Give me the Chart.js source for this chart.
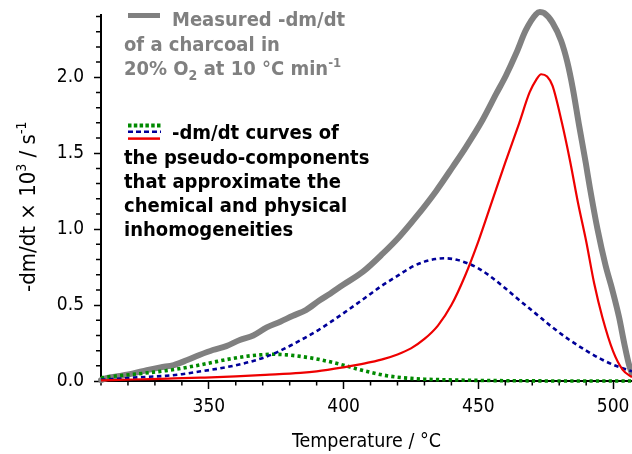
<!DOCTYPE html>
<html><head><meta charset="utf-8">
<script src="https://cdn.jsdelivr.net/npm/chart.js@4.4.1/dist/chart.umd.min.js"></script>
<style>html,body{margin:0;padding:0;background:#fff;}#c{display:block;}</style>
</head><body>
<canvas id="c" width="632" height="454"></canvas>
<script>
// ---- data ----
const tempMeasured = [310,312,317,322,327,332,337,342,346.5,351.5,356.5,361.5,366.5,371.5,376.5,381,386,391,395,399.7,407.2,414.6,420.7,426.9,434.3,440.5,445.4,451.6,456.6,460.2,464.0,467.6,471.4,472.8,474.4,477.5,480.7,483.0,485.0,487.4,489.9,491.4,494.2,497.2,499.7,502.2,504.1,506.0,507.0];
const dmdtMeasured = [0.006,0.018,0.033,0.050,0.072,0.090,0.105,0.138,0.171,0.204,0.230,0.270,0.300,0.353,0.390,0.428,0.467,0.530,0.575,0.632,0.720,0.840,0.950,1.080,1.250,1.410,1.540,1.720,1.890,2.010,2.156,2.310,2.415,2.430,2.423,2.360,2.240,2.100,1.930,1.680,1.430,1.270,1.000,0.760,0.600,0.420,0.250,0.100,0.050];

const tempComp1 = [310,312,316,322,328,334,340,346.5,352,359,364,369,374,379,384,390,395,400,405,410,415,420,425,430,435,440,450,460,470,480,507];
const dmdtComp1 = [0.020,0.026,0.034,0.044,0.055,0.068,0.084,0.105,0.125,0.149,0.163,0.172,0.176,0.172,0.162,0.145,0.126,0.104,0.079,0.057,0.038,0.025,0.017,0.012,0.009,0.007,0.004,0.002,0.001,0,0];

const tempComp2 = [310,316,322,328,334,340,346.5,353,359,365,371,376,381,386,390.5,396,402,408.4,414,420.7,425,430,434,438,442,446,450,454,459,465,471.4,477,483.7,490,496,501,505,507];
const dmdtComp2 = [0.008,0.014,0.022,0.028,0.034,0.045,0.062,0.080,0.100,0.125,0.158,0.195,0.240,0.288,0.334,0.398,0.472,0.553,0.625,0.700,0.748,0.786,0.803,0.808,0.798,0.775,0.742,0.695,0.625,0.535,0.442,0.360,0.272,0.200,0.140,0.100,0.075,0.064];

const tempComp3 = [310,322,335,347,360,371,384,390,400,405,410,415,420,425,430,435,440,445,450,455,460,465,469,471.5,473.3,475.5,477.5,481,484,487,490,493,496,500,503.5,507];
const dmdtComp3 = [0.004,0.010,0.016,0.022,0.030,0.040,0.053,0.063,0.090,0.106,0.124,0.146,0.175,0.215,0.277,0.365,0.500,0.690,0.920,1.180,1.440,1.690,1.900,1.985,2.020,2.005,1.945,1.700,1.450,1.170,0.920,0.640,0.420,0.195,0.075,0.025];

const xTickValues = [350,400,450,500];
const yTickValues = [0,0.5,1.0,1.5,2.0];
const xMinorStep = 10, yMinorStep = 0.1;

const legend1Lines = [
  [{t:'Measured -dm/dt'}],
  [{t:'of a charcoal in'}],
  [{t:'20% O'},{t:'2',sub:true},{t:' at 10 °C min'},{t:'-1',sup:true}]
];
const legend2Lines = [
  [{t:'-dm/dt curves of'}],
  [{t:'the pseudo-components'}],
  [{t:'that approximate the'}],
  [{t:'chemical and physical'}],
  [{t:'inhomogeneities'}]
];
const yTitleRuns = [{t:'-dm/dt × 10'},{t:'3',sup:true},{t:' / s'},{t:'-1',sup:true}];
const xTitle = 'Temperature / °C';

// ---- styling ----
const FAMILY = "'DejaVu Sans Condensed', 'Liberation Sans', sans-serif";
const GREY = '#808080', RED = '#ee0000', BLUE = '#000099', GREEN = '#008a00';

function pts(xs, ys){ return xs.map((x,i)=>({x:x, y:ys[i]})); }

function drawRuns(ctx, x, y, runs, size, weight, color){
  ctx.fillStyle = color; ctx.textAlign = 'left'; ctx.textBaseline = 'alphabetic';
  for (const r of runs){
    let s = size, dy = 0;
    if (r.sup){ s = Math.round(size*0.65); dy = -size*0.42; }
    if (r.sub){ s = Math.round(size*0.68); dy = size*0.26; }
    ctx.font = weight + ' ' + s + 'px ' + FAMILY;
    ctx.fillText(r.t, x, y + dy);
    x += ctx.measureText(r.t).width;
  }
}

const extras = {
  id: 'extras',
  beforeDatasetsDraw(chart){
    const ctx = chart.ctx, xs = chart.scales.x, ys = chart.scales.y, a = chart.chartArea;
    ctx.save();
    ctx.strokeStyle = '#000'; ctx.lineWidth = 1.5;
    ctx.beginPath();
    for (let v = xs.min; v <= xs.max + 1e-9; v += xMinorStep){
      if (xTickValues.includes(Math.round(v))) continue;
      const px = xs.getPixelForValue(v);
      ctx.moveTo(px, a.bottom); ctx.lineTo(px, a.bottom + 4.5);
    }
    for (let i = 1; i * yMinorStep <= ys.max + 1e-9; i++){
      const v = i * yMinorStep;
      if (i % 5 === 0) continue;
      const py = ys.getPixelForValue(v);
      ctx.moveTo(a.left - 5, py); ctx.lineTo(a.left, py);
    }
    ctx.stroke();
    ctx.restore();
  },
  afterDraw(chart){
    const ctx = chart.ctx;
    ctx.save();
    ctx.lineCap = 'butt';
    ctx.strokeStyle = GREY; ctx.lineWidth = 5;
    ctx.beginPath(); ctx.moveTo(128, 15.5); ctx.lineTo(160, 15.5); ctx.stroke();
    const l1 = [[172,26],[124,51],[124,75]];
    legend1Lines.forEach((ln,i)=>drawRuns(ctx, l1[i][0], l1[i][1], ln, 20, 'bold', GREY));
    ctx.strokeStyle = GREEN; ctx.lineWidth = 4; ctx.setLineDash([3.5,2.3]);
    ctx.beginPath(); ctx.moveTo(128, 125.5); ctx.lineTo(161, 125.5); ctx.stroke();
    ctx.strokeStyle = BLUE; ctx.lineWidth = 2.5; ctx.setLineDash([5,3]);
    ctx.beginPath(); ctx.moveTo(128, 131.8); ctx.lineTo(161, 131.8); ctx.stroke();
    ctx.setLineDash([]);
    ctx.strokeStyle = RED; ctx.lineWidth = 2.5;
    ctx.beginPath(); ctx.moveTo(128, 138.6); ctx.lineTo(160, 138.6); ctx.stroke();
    const l2 = [[172,139],[124,163.5],[124,188],[124,212],[124,236]];
    legend2Lines.forEach((ln,i)=>drawRuns(ctx, l2[i][0], l2[i][1], ln, 20, 'bold', '#000'));
    ctx.translate(35, 292); ctx.rotate(-Math.PI/2);
    drawRuns(ctx, 0, 0, yTitleRuns, 22, 'normal', '#000');
    ctx.restore();
  }
};

const tickFont = {family: FAMILY, size: 19};

new Chart(document.getElementById('c'), {
  type: 'line',
  data: {
    datasets: [
      {label:'component 3', data: pts(tempComp3, dmdtComp3), borderColor: RED, borderWidth: 2.2, pointRadius: 0, cubicInterpolationMode: 'monotone', clip: false},
      {label:'component 2', data: pts(tempComp2, dmdtComp2), borderColor: BLUE, borderWidth: 2.6, borderDash: [4.5,3.5], pointRadius: 0, cubicInterpolationMode: 'monotone', clip: false},
      {label:'component 1', data: pts(tempComp1, dmdtComp1), borderColor: GREEN, borderWidth: 3.6, borderDash: [3.2,3.2], borderCapStyle: 'butt', pointRadius: 0, cubicInterpolationMode: 'monotone', clip: false},
      {label:'measured', data: pts(tempMeasured, dmdtMeasured), borderColor: GREY, borderWidth: 6, pointRadius: 0, cubicInterpolationMode: 'monotone', borderJoinStyle: 'round', borderCapStyle: 'round', clip: false}
    ]
  },
  options: {
    responsive: false, animation: false, devicePixelRatio: 1,
    layout: {padding: {left: 0, right: 0, top: 15, bottom: 0}},
    plugins: {legend: {display: false}, tooltip: {enabled: false}},
    scales: {
      x: {
        type: 'linear', min: 310, max: 507,
        afterBuildTicks: s => { s.ticks = xTickValues.map(v => ({value: v})); },
        afterFit: s => { s.height = 73; s.paddingLeft = 0; s.paddingRight = 0; },
        grid: {display: true, drawOnChartArea: false, drawTicks: true, tickLength: 8, tickWidth: 1.5, tickColor: '#000'},
        border: {display: true, color: '#000', width: 2},
        ticks: {font: tickFont, color: '#000', padding: 7, maxRotation: 0, callback: v => String(v)},
        title: {display: true, text: xTitle, font: {family: FAMILY, size: 19.5, lineHeight: 1.2}, color: '#000', padding: {top: 0, bottom: 0}}
      },
      y: {
        type: 'linear', min: 0, max: 2.41,
        afterBuildTicks: s => { s.ticks = yTickValues.map(v => ({value: v})); },
        afterFit: s => { s.width = 101; s.paddingTop = 0; s.paddingBottom = 0; },
        grid: {display: true, drawOnChartArea: false, drawTicks: true, tickLength: 7, tickWidth: 1.5, tickColor: '#000'},
        border: {display: true, color: '#000', width: 2},
        ticks: {font: tickFont, color: '#000', padding: 10, callback: v => Number(v).toFixed(1)}
      }
    }
  },
  plugins: [extras]
});
</script>
</body></html>
